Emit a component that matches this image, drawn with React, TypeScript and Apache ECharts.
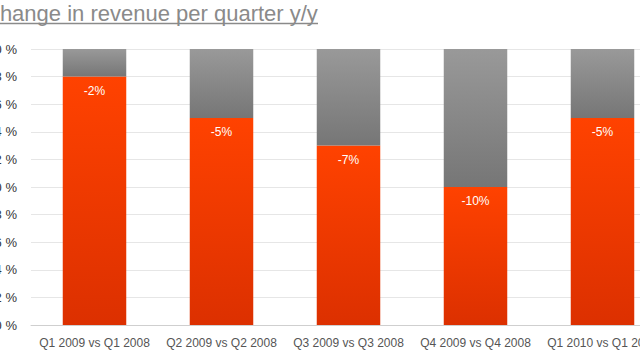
import React, { useEffect, useRef } from "react";
import * as echarts from "echarts";

const categories = [
  "Q1 2009 vs Q1 2008",
  "Q2 2009 vs Q2 2008",
  "Q3 2009 vs Q3 2008",
  "Q4 2009 vs Q4 2008",
  "Q1 2010 vs Q1 2009",
];
const changeLabels = ["-2%", "-5%", "-7%", "-10%", "-5%"];
const revenueIndex = [98, 95, 93, 90, 95];
const remainder = [2, 5, 7, 10, 5];
const titleText = "Change in revenue per quarter y/y";

export default function App() {
  const ref = useRef<HTMLDivElement>(null);
  useEffect(() => {
    document.body.style.margin = "0";
    const chart = echarts.init(ref.current!, null, { renderer: "svg" });
    chart.setOption({
      animation: false,
      backgroundColor: "#ffffff",
      textStyle: { fontFamily: "Liberation Sans, Arial, sans-serif" },
      graphic: [
        {
          type: "text",
          x: -16,
          y: 2,
          style: {
            text: titleText,
            font: "22px 'Liberation Sans', Arial, sans-serif",
            fill: "#8a8a8a",
          },
        },
        {
          type: "line",
          shape: { x1: -16, y1: 23.5, x2: 318, y2: 23.5 },
          style: { stroke: "#8a8a8a", lineWidth: 1.5 },
        },
      ],
      grid: {
        left: 31,
        right: -26,
        top: 49,
        bottom: 35,
        containLabel: false,
        outerBoundsMode: "none",
      },
      xAxis: {
        type: "category",
        data: categories,
        axisTick: { show: false },
        axisLine: { lineStyle: { color: "#cfcfcf" } },
        axisLabel: { color: "#555", fontSize: 12, margin: 12, interval: 0, hideOverlap: false },
      },
      yAxis: {
        type: "value",
        min: 80,
        max: 100,
        interval: 2,
        axisLine: { show: false },
        axisTick: { show: false },
        splitLine: { lineStyle: { color: "#e6e6e6" } },
        axisLabel: {
          color: "#333",
          fontSize: 13,
          margin: 14,
          formatter: (v: number) => `${v} %`,
        },
      },
      series: [
        {
          type: "bar",
          stack: "total",
          barCategoryGap: "50%",
          data: revenueIndex,
          itemStyle: {
            color: new echarts.graphic.LinearGradient(0, 0, 0, 1, [
              { offset: 0, color: "#ff4200" },
              { offset: 1, color: "#dc3000" },
            ]),
          },
          label: {
            show: true,
            position: "insideTop",
            distance: 8,
            color: "#ffffff",
            fontSize: 12,
            formatter: (p: any) => changeLabels[p.dataIndex],
          },
        },
        {
          type: "bar",
          stack: "total",
          barCategoryGap: "50%",
          data: remainder,
          itemStyle: {
            color: new echarts.graphic.LinearGradient(0, 0, 0, 1, [
              { offset: 0, color: "#999999" },
              { offset: 1, color: "#767676" },
            ]),
          },
        },
      ],
    });
    return () => chart.dispose();
  }, []);
  return <div ref={ref} style={{ width: 640, height: 360 }} />;
}
